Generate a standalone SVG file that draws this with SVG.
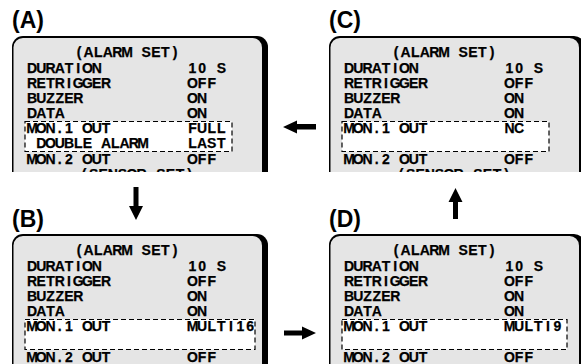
<svg xmlns="http://www.w3.org/2000/svg" width="581" height="364" viewBox="0 0 581 364">
<style>
.lbl{font-family:"Liberation Sans",Arial,sans-serif;font-weight:bold;font-size:23px;fill:#000}
.t{font-family:"Liberation Sans",Arial,sans-serif;font-weight:bold;font-size:14px;fill:#000;stroke:#000;stroke-width:0.25;text-anchor:middle}
.frame{fill:#000}
.face{fill:#e5e5e5}
.sel{fill:#fff;stroke:#000;stroke-width:1.2;stroke-dasharray:5 3}
.arr{fill:#000}
</style>
<defs>
<clipPath id="cut"><rect x="0" y="0" width="300" height="172"/></clipPath>
<g id="base">
<rect class="frame" x="12" y="36" width="256" height="200" rx="11"/>
<rect class="face" x="13.5" y="38" width="248.5" height="200" rx="9.5"/>
</g>
<g id="rows">
<text class="t" x="79 88.6 98.2 107.8 117.4 127 136.6 146.2 155.8 165.4 175" y="57">(ALARM SET)</text>
<text class="t" x="32 41.25 50.5 59.75 69 78.25 87.5 96.75" y="72.5">DURATION</text>
<text class="t" x="192.5 202.1 211.7 221.3" y="72.5">10 S</text>
<text class="t" x="32 41.25 50.5 59.75 69 78.25 87.5 96.75 106" y="87.5">RETRIGGER</text>
<text class="t" x="192.5 202.1 211.7" y="87.5">OFF</text>
<text class="t" x="32 41.25 50.5 59.75 69 78.25" y="102.5">BUZZER</text>
<text class="t" x="192.5 202.1" y="102.5">ON</text>
<text class="t" x="32 41.25 50.5 59.75" y="117.5">DATA</text>
<text class="t" x="192.5 202.1" y="117.5">ON</text>
</g>
<g id="rows2">
<text class="t" x="32 41.25 50.5 59.75 69 78.25 87.5 96.75 106" y="164">MON.2 OUT</text>
<text class="t" x="192.5 202.1 211.7" y="164">OFF</text>
<text class="t" x="84 93.6 103.2 112.8 122.4 132 141.6 151.2 160.8 170.4 180 189.6" y="179">(SENSOR SET)</text>
</g>
</defs>

<g id="panelA">
<text class="lbl" x="12" y="28">(A)</text>
<g clip-path="url(#cut)">
<use href="#base"/>
<use href="#rows"/>
<rect class="sel" x="25" y="121.5" width="207" height="30"/>
<text class="t" x="32 41.25 50.5 59.75 69 78.25 87.5 96.75 106" y="133">MON.1 OUT</text>
<text class="t" x="192.5 202.1 211.7 221.3" y="133">FULL</text>
<text class="t" x="41.25 50.5 59.75 69 78.25 87.5 96.75 106 115.25 124.5 133.75 143" y="148">DOUBLE ALARM</text>
<text class="t" x="192.5 202.1 211.7 221.3" y="148">LAST</text>
<use href="#rows2"/>
</g>
</g>

<g id="panelC" transform="translate(317,0)">
<text class="lbl" x="12" y="28">(C)</text>
<g clip-path="url(#cut)">
<use href="#base"/>
<use href="#rows"/>
<rect class="sel" x="25" y="121.5" width="207" height="30"/>
<text class="t" x="32 41.25 50.5 59.75 69 78.25 87.5 96.75 106" y="133">MON.1 OUT</text>
<text class="t" x="192.5 202.1" y="133">NC</text>
<use href="#rows2"/>
</g>
</g>

<g id="panelB" transform="translate(0,198)">
<text class="lbl" x="12" y="29">(B)</text>
<use href="#base"/>
<use href="#rows"/>
<rect class="sel" x="25" y="121.5" width="230" height="30"/>
<text class="t" x="32 41.25 50.5 59.75 69 78.25 87.5 96.75 106" y="133">MON.1 OUT</text>
<text class="t" x="192.5 202.1 211.7 221.3 230.9 240.5 250.1" y="133">MULTI16</text>
<use href="#rows2"/>
</g>

<g id="panelD" transform="translate(317,198)">
<text class="lbl" x="12" y="29">(D)</text>
<use href="#base"/>
<use href="#rows"/>
<rect class="sel" x="25" y="121.5" width="225" height="30"/>
<text class="t" x="32 41.25 50.5 59.75 69 78.25 87.5 96.75 106" y="133">MON.1 OUT</text>
<text class="t" x="192.5 202.1 211.7 221.3 230.9 240.5" y="133">MULTI9</text>
<use href="#rows2"/>
</g>

<g id="connectors">
<polygon class="arr" points="283,127 297,120.5 297,124 316,124 316,129.5 297,129.5 297,133.5"/>
<polygon class="arr" points="133.5,187 138.5,187 138.5,206 143,206 136,220 129,206 133.5,206"/>
<polygon class="arr" points="316,333 302,326.5 302,330.5 284,330.5 284,335.5 302,335.5 302,339.5"/>
<polygon class="arr" points="455.5,188 462.5,202 458,202 458,219 453,219 453,202 448.5,202"/>
</g>
</svg>
